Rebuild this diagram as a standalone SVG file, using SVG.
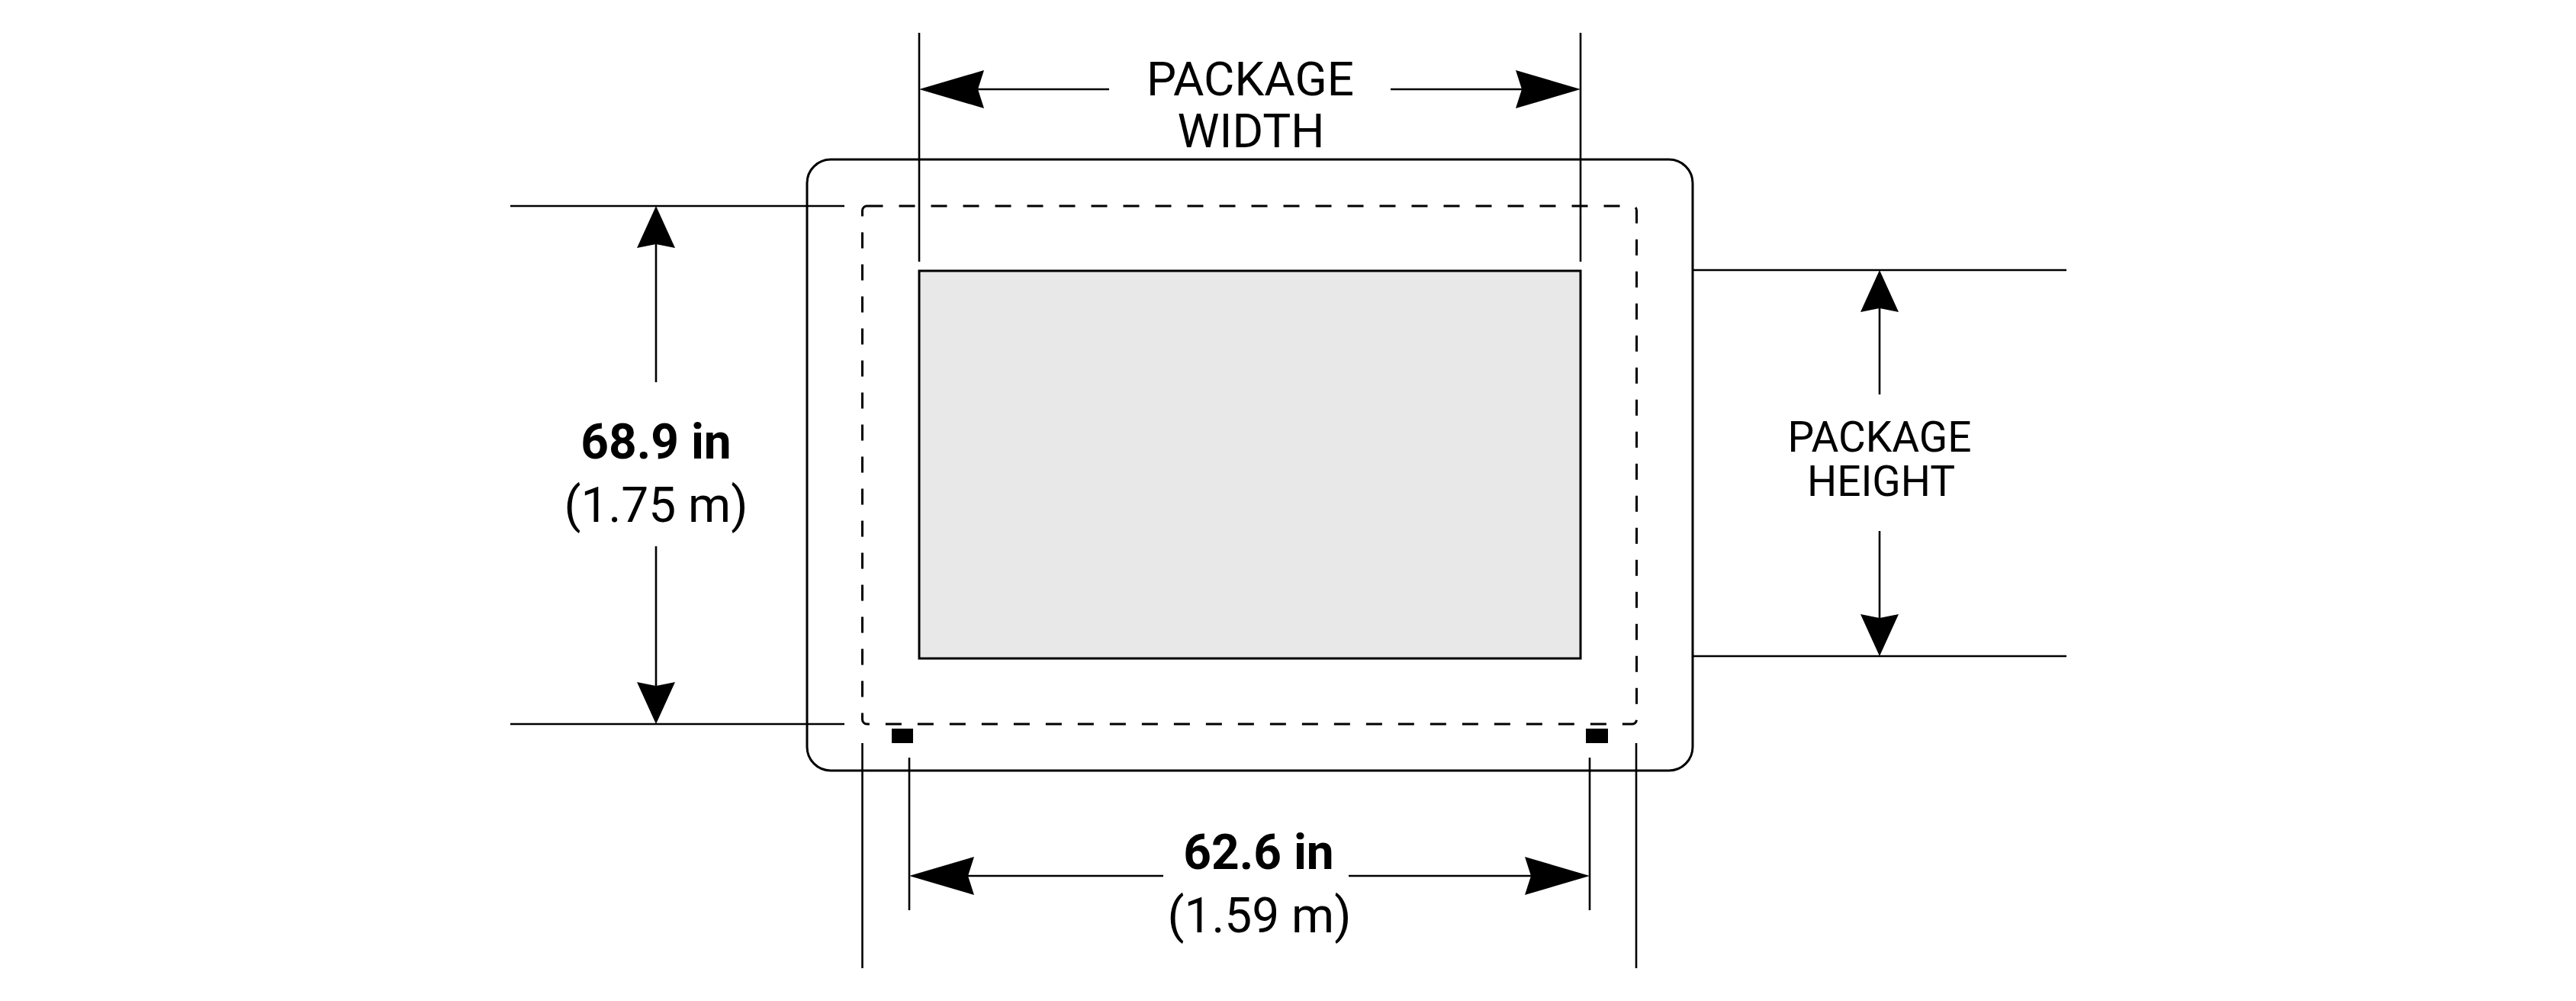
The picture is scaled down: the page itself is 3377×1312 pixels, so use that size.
<svg xmlns="http://www.w3.org/2000/svg" width="3377" height="1312" viewBox="0 0 3377 1312">
<style>
.ln{stroke:#000;stroke-width:2.6;fill:none}
.box{stroke:#000;stroke-width:3;fill:none}
.scr{stroke:#000;stroke-width:3;fill:#e8e8e8}
.dash{stroke:#000;stroke-width:3;fill:none;stroke-dasharray:21 21}
.ah{fill:#000;stroke:none}
.lbl{font-family:Roboto,"Noto Sans",sans-serif;fill:#000}
.num{font-family:Roboto,"Noto Sans",sans-serif;fill:#000;font-size:64px}
</style>
<rect width="3377" height="1312" fill="#fff"/>
<g id="package">
<rect x="1058" y="209" width="1161" height="801" rx="31" ry="31" class="box"/>
</g>
<g id="footprint">
<rect x="1130.5" y="270" width="1015" height="679" rx="6" ry="6" class="dash"/>
</g>
<g id="screen">
<rect x="1205" y="355" width="867" height="508" class="scr"/>
</g>
<g id="feet">
<rect x="1169" y="955" width="28" height="19" fill="#000"/>
<rect x="2079" y="955" width="29" height="19" fill="#000"/>
</g>
<g id="connectors">
<line x1="1205" y1="43" x2="1205" y2="343" class="ln"/>
<line x1="2072" y1="43" x2="2072" y2="343" class="ln"/>
<line x1="1280" y1="117" x2="1454" y2="117" class="ln"/>
<line x1="1823" y1="117" x2="1997" y2="117" class="ln"/>
<polygon class="ah" points="1205,117 1290,92 1282,117 1290,142"/>
<polygon class="ah" points="2072,117 1987,92 1995,117 1987,142"/>
<line x1="669" y1="270" x2="1107" y2="270" class="ln"/>
<line x1="669" y1="949" x2="1107" y2="949" class="ln"/>
<line x1="860" y1="318" x2="860" y2="501" class="ln"/>
<line x1="860" y1="716" x2="860" y2="901" class="ln"/>
<polygon class="ah" points="860,270 835,325 860,320 885,325"/>
<polygon class="ah" points="860,949 835,894 860,899 885,894"/>
<line x1="2219" y1="354" x2="2709" y2="354" class="ln"/>
<line x1="2219" y1="860" x2="2709" y2="860" class="ln"/>
<line x1="2464" y1="402" x2="2464" y2="517" class="ln"/>
<line x1="2464" y1="696" x2="2464" y2="812" class="ln"/>
<polygon class="ah" points="2464,354 2439,409 2464,404 2489,409"/>
<polygon class="ah" points="2464,860 2439,805 2464,810 2489,805"/>
<line x1="1130.5" y1="974" x2="1130.5" y2="1269" class="ln"/>
<line x1="2145" y1="974" x2="2145" y2="1269" class="ln"/>
<line x1="1192" y1="993" x2="1192" y2="1193" class="ln"/>
<line x1="2084" y1="993" x2="2084" y2="1193" class="ln"/>
<line x1="1267" y1="1148" x2="1525" y2="1148" class="ln"/>
<line x1="1768" y1="1148" x2="2009" y2="1148" class="ln"/>
<polygon class="ah" points="1192,1148 1277,1123 1269,1148 1277,1173"/>
<polygon class="ah" points="2084,1148 1999,1123 2007,1148 1999,1173"/>
</g>
<g id="labels">
<text class="lbl" font-size="62" text-anchor="middle" x="1639" y="125">PACKAGE</text>
<text class="lbl" font-size="62" text-anchor="middle" x="1640" y="193">WIDTH</text>
<text class="lbl" font-size="55" text-anchor="middle" x="2464" y="592">PACKAGE</text>
<text class="lbl" font-size="55" text-anchor="middle" x="2466" y="650">HEIGHT</text>
<text class="num" font-weight="bold" text-anchor="middle" x="860" y="601">68.9 in</text>
<text class="num" text-anchor="middle" x="860" y="684">(1.75 m)</text>
<text class="num" font-weight="bold" text-anchor="middle" x="1650" y="1139">62.6 in</text>
<text class="num" text-anchor="middle" x="1651" y="1222">(1.59 m)</text>
</g>
</svg>
